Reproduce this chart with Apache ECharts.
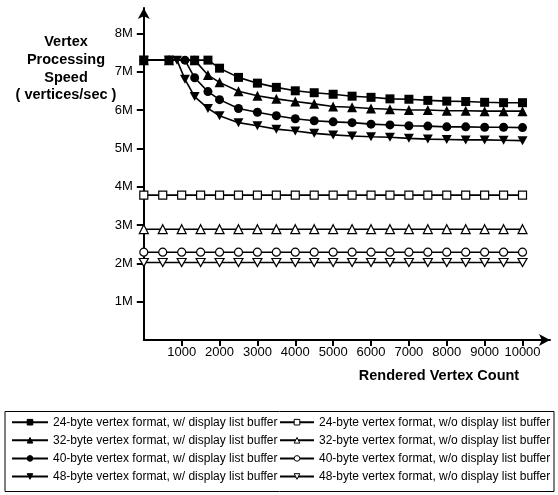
<!DOCTYPE html>
<html>
<head>
<meta charset="utf-8">
<script src="https://cdn.jsdelivr.net/npm/echarts@6/dist/echarts.min.js"></script>
<style>html,body{margin:0;padding:0;background:#fff}#c{width:558px;height:495px}</style>
</head>
<body>
<div id="c"></div>
<script>
// X sample positions (vertex counts)
const X_24_W = [0, 665, 1343, 1694, 2000, 2500, 3000, 3500, 4000, 4500, 5000, 5500, 6000, 6500, 7000, 7500, 8000, 8500, 9000, 9500, 10000];
const X_32_W = [0, 665, 1343, 1694, 2000, 2500, 3000, 3500, 4000, 4500, 5000, 5500, 6000, 6500, 7000, 7500, 8000, 8500, 9000, 9500, 10000];
const X_40_W = [0, 665, 1087, 1343, 1694, 2000, 2500, 3000, 3500, 4000, 4500, 5000, 5500, 6000, 6500, 7000, 7500, 8000, 8500, 9000, 9500, 10000];
const X_48_W = [0, 665, 876, 1087, 1343, 1694, 2000, 2500, 3000, 3500, 4000, 4500, 5000, 5500, 6000, 6500, 7000, 7500, 8000, 8500, 9000, 9500, 10000];
const X_WO = [0, 500, 1000, 1500, 2000, 2500, 3000, 3500, 4000, 4500, 5000, 5500, 6000, 6500, 7000, 7500, 8000, 8500, 9000, 9500, 10000];

// Speeds in millions of vertices/sec
const Y_24_W = [7.30, 7.30, 7.30, 7.30, 7.09, 6.85, 6.70, 6.59, 6.50, 6.45, 6.41, 6.36, 6.33, 6.29, 6.28, 6.25, 6.23, 6.22, 6.20, 6.19, 6.19];
const Y_32_W = [7.30, 7.30, 7.30, 6.91, 6.72, 6.49, 6.37, 6.29, 6.22, 6.16, 6.09, 6.07, 6.04, 6.02, 6.00, 6.00, 5.98, 5.98, 5.97, 5.97, 5.97];
const Y_40_W = [7.30, 7.30, 7.30, 6.84, 6.48, 6.27, 6.04, 5.94, 5.85, 5.77, 5.72, 5.69, 5.67, 5.63, 5.61, 5.59, 5.58, 5.56, 5.56, 5.55, 5.55, 5.54];
const Y_48_W = [7.30, 7.30, 7.30, 6.80, 6.35, 6.04, 5.85, 5.67, 5.59, 5.50, 5.45, 5.39, 5.35, 5.32, 5.30, 5.29, 5.26, 5.24, 5.23, 5.22, 5.22, 5.21, 5.20];
const Y_24_WO = [3.78, 3.78, 3.78, 3.78, 3.78, 3.78, 3.78, 3.78, 3.78, 3.78, 3.78, 3.78, 3.78, 3.78, 3.78, 3.78, 3.78, 3.78, 3.78, 3.78, 3.78];
const Y_32_WO = [2.89, 2.89, 2.89, 2.89, 2.89, 2.89, 2.89, 2.89, 2.89, 2.89, 2.89, 2.89, 2.89, 2.89, 2.89, 2.89, 2.89, 2.89, 2.89, 2.89, 2.89];
const Y_40_WO = [2.29, 2.29, 2.29, 2.29, 2.29, 2.29, 2.29, 2.29, 2.29, 2.29, 2.29, 2.29, 2.29, 2.29, 2.29, 2.29, 2.29, 2.29, 2.29, 2.29, 2.29];
const Y_48_WO = [2.02, 2.02, 2.02, 2.02, 2.02, 2.02, 2.02, 2.02, 2.02, 2.02, 2.02, 2.02, 2.02, 2.02, 2.02, 2.02, 2.02, 2.02, 2.02, 2.02, 2.02];

const X_TICKS = [1000, 2000, 3000, 4000, 5000, 6000, 7000, 8000, 9000, 10000];
const Y_TICKS = [1, 2, 3, 4, 5, 6, 7, 8];

const NAMES_W = [
  '24-byte vertex format, w/ display list buffer',
  '32-byte vertex format, w/ display list buffer',
  '40-byte vertex format, w/ display list buffer',
  '48-byte vertex format, w/ display list buffer'
];
const NAMES_WO = [
  '24-byte vertex format, w/o display list buffer',
  '32-byte vertex format, w/o display list buffer',
  '40-byte vertex format, w/o display list buffer',
  '48-byte vertex format, w/o display list buffer'
];

const FONT = 'Liberation Sans, Arial, Helvetica, sans-serif';
const INV_TRI = 'path://M0,0 L10,0 L5,9 Z';

function pairs(xs, ys) { return xs.map((x, i) => [x, ys[i]]); }

function mk(name, xs, ys, symbol, size, filled) {
  return {
    name: name,
    type: 'line',
    data: pairs(xs, ys),
    symbol: symbol,
    symbolSize: size,
    showAllSymbol: true,
    clip: false,
    lineStyle: { color: '#000', width: 1.6 },
    itemStyle: filled ? { color: '#000', borderColor: '#000', borderWidth: 0 }
                      : { color: '#fff', borderColor: '#000', borderWidth: 1.2 },
    emphasis: { disabled: true },
    animation: false
  };
}

const series = [
  mk(NAMES_WO[0], X_WO, Y_24_WO, 'rect', 8, false),
  mk(NAMES_WO[1], X_WO, Y_32_WO, 'triangle', 9, false),
  mk(NAMES_WO[2], X_WO, Y_40_WO, 'circle', 8, false),
  mk(NAMES_WO[3], X_WO, Y_48_WO, INV_TRI, [9, 8], false),
  mk(NAMES_W[3], X_48_W, Y_48_W, INV_TRI, [10, 9], true),
  mk(NAMES_W[2], X_40_W, Y_40_W, 'circle', 9, true),
  mk(NAMES_W[1], X_32_W, Y_32_W, 'triangle', 10, true),
  mk(NAMES_W[0], X_24_W, Y_24_W, 'rect', 9, true)
];

const legendCommon = {
  orient: 'vertical',
  top: 411.2,
  itemHeight: 7,
  itemGap: 6.1,
  selectedMode: false,
  itemStyle: { borderWidth: 1 },
  textStyle: { color: '#000', fontSize: 12, fontFamily: FONT }
};

const chart = echarts.init(document.getElementById('c'), null, { renderer: 'canvas' });
chart.setOption({
  animation: false,
  backgroundColor: '#fff',
  grid: { left: 143.8, right: 8, top: 8, bottom: 155, outerBoundsMode: 'none' },
  xAxis: {
    type: 'value', min: 0, max: 10726, interval: 1000,
    axisLine: { show: true, symbol: ['none', 'arrow'], symbolSize: [9, 11], lineStyle: { color: '#000', width: 2 } },
    axisTick: { show: true, length: 6, customValues: X_TICKS, lineStyle: { color: '#000', width: 2 } },
    axisLabel: { customValues: X_TICKS, margin: 6, color: '#000', fontSize: 13, fontFamily: FONT, formatter: v => String(v) },
    splitLine: { show: false }
  },
  yAxis: {
    type: 'value', min: 0, max: 8.66, interval: 1,
    axisLine: { show: true, symbol: ['none', 'arrow'], symbolSize: [9, 11], lineStyle: { color: '#000', width: 2 } },
    axisTick: { show: true, length: 7, customValues: Y_TICKS, lineStyle: { color: '#000', width: 2 } },
    axisLabel: { customValues: Y_TICKS, margin: 11, color: '#000', fontSize: 13, fontFamily: FONT, formatter: v => v + 'M' },
    splitLine: { show: false }
  },
  legend: [
    Object.assign({}, legendCommon, { left: 6, itemWidth: 36, data: NAMES_W }),
    Object.assign({}, legendCommon, { left: 274, itemWidth: 34, data: NAMES_WO })
  ],
  graphic: [
    { type: 'rect', shape: { x: 5, y: 411.5, width: 549, height: 80 }, style: { fill: 'none', stroke: '#000', lineWidth: 1 }, silent: true },
    { type: 'text', x: 66, y: 33, style: { text: 'Vertex\nProcessing\nSpeed\n( vertices/sec )', textAlign: 'center', textVerticalAlign: 'top', font: 'bold 14.5px ' + FONT, lineHeight: 17.8, fill: '#000' }, silent: true },
    { type: 'text', x: 439, y: 376, style: { text: 'Rendered Vertex Count', textAlign: 'center', textVerticalAlign: 'middle', font: 'bold 14.5px ' + FONT, fill: '#000' }, silent: true }
  ],
  series: series
});
</script>
</body>
</html>
